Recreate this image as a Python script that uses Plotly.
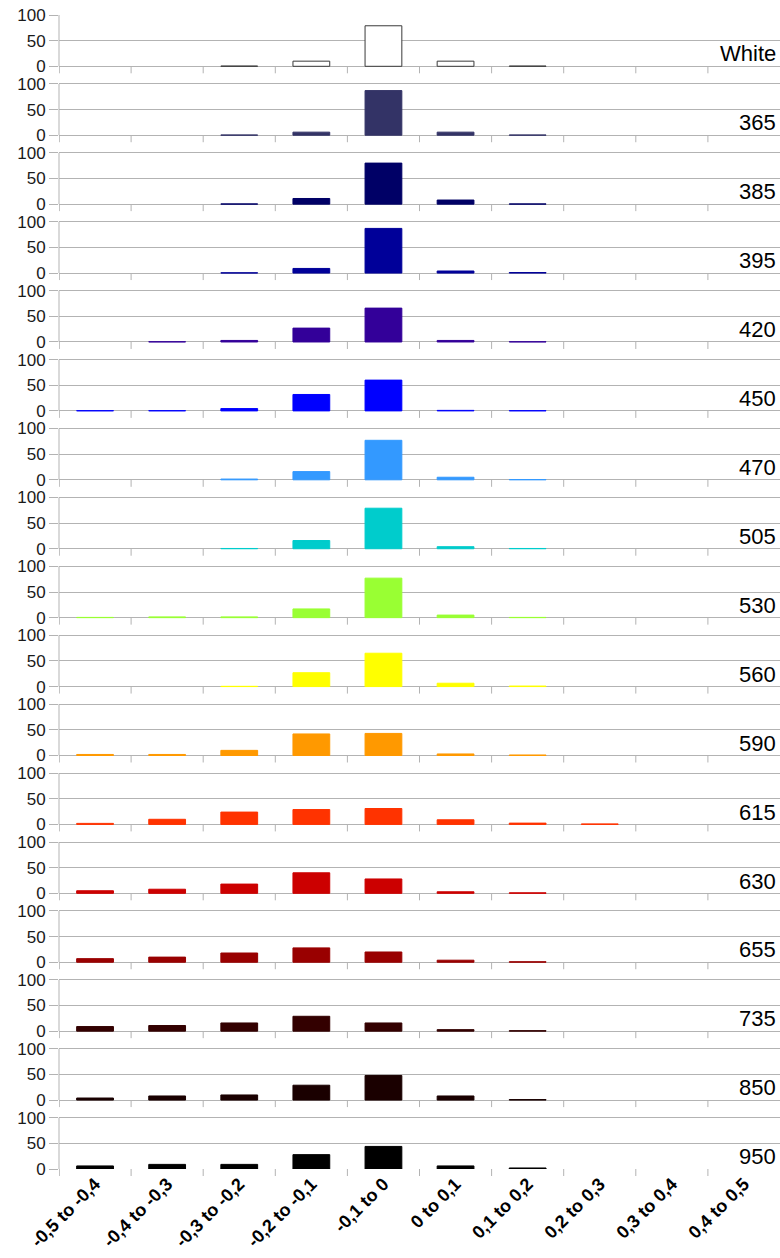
import plotly.graph_objects as go

# Bins of the value distribution (x categories)
categories = ["-0,5 to -0,4", "-0,4 to -0,3", "-0,3 to -0,2", "-0,2 to -0,1",
              "-0,1 to 0", "0 to 0,1", "0,1 to 0,2", "0,2 to 0,3",
              "0,3 to 0,4", "0,4 to 0,5"]

# Panel names (light source / wavelength)
panel_names = ["White", "365", "385", "395", "420", "450", "470", "505", "530",
               "560", "590", "615", "630", "655", "735", "850", "950"]

# Bar colours, one per panel
panel_colors = ["#ffffff", "#333366", "#000066", "#000099", "#330099", "#0000ff",
                "#3399ff", "#00cccc", "#99ff33", "#ffff00", "#ff9900", "#ff3300",
                "#cc0000", "#990000", "#330000", "#1a0000", "#000000"]

# Percentage per bin for each panel (None = no bar)
N = None
values_white = [N, N, 0.5, 10, 79, 10, 0.5, N, N, N]
values_365 = [N, N, 0.5, 6, 87, 6, 0.5, N, N, N]
values_385 = [N, N, 0.5, 11, 80, 8, 0.5, N, N, N]
values_395 = [N, N, 0.5, 9, 87, 4, 1, N, N, N]
values_420 = [N, 0.5, 3, 27, 66, 3, 0.5, N, N, N]
values_450 = [0.5, 0.5, 4.5, 32, 60, 1, 0.5, N, N, N]
values_470 = [N, N, 1.5, 16, 77, 5, 0.5, N, N, N]
values_505 = [N, N, 0.5, 16, 79, 4, 0.5, N, N, N]
values_530 = [0.5, 1.5, 1.5, 17, 77, 5, 0.5, N, N, N]
values_560 = [N, N, 0.5, 27, 65, 6.5, 1, N, N, N]
values_590 = [2, 2, 10, 42, 43, 3, 1, N, N, N]
values_615 = [2, 10, 24, 29, 31, 9, 2.5, 1, N, N]
values_630 = [5, 8, 18, 40, 28, 3, 1, N, N, N]
values_655 = [7, 10, 18, 28, 20, 4, 1, N, N, N]
values_735 = [9, 11, 16, 29, 16, 3, 1, N, N, N]
values_850 = [4, 8, 10, 29, 48, 8, 1, N, N, N]
values_950 = [6, 9, 9, 28, 44, 6, 2, N, N, N]

panel_values = [values_white, values_365, values_385, values_395, values_420,
                values_450, values_470, values_505, values_530, values_560,
                values_590, values_615, values_630, values_655, values_735,
                values_850, values_950]

W, H = 780, 1258
M_L, M_R, M_T, M_B = 59, 0, 15, 89
plot_h = H - M_T - M_B
n = len(panel_names)
panel_px = 51.3          # pixel height of the 0..100 span in each panel
pitch_px = (plot_h - panel_px) / (n - 1)
pad_units = 5.0          # range padding so the 0 and 100 grid lines are drawn
pad_px = panel_px * pad_units / 100
tick_px = 7              # length of the category boundary ticks

GRID = "#b3b3b3"
FONT = "Liberation Sans, Arial, sans-serif"

fig = go.Figure()
layout_axes = {}
annotations = []
shapes = []

for i, (name, color, vals) in enumerate(zip(panel_names, panel_colors, panel_values)):
    k = "" if i == 0 else str(i + 1)
    top_px = i * pitch_px - pad_px
    bot_px = i * pitch_px + panel_px + pad_px
    dom = [1 - bot_px / plot_h, 1 - top_px / plot_h]
    lo = max(0.0, dom[0])
    hi = min(1.0, dom[1])
    rng_lo = -pad_units + (lo - dom[0]) * plot_h / panel_px * 100
    rng_hi = 100 + pad_units - (dom[1] - hi) * plot_h / panel_px * 100
    line_color = "#3a3a3a" if color == "#ffffff" else color
    fig.add_trace(go.Bar(
        x=categories, y=vals, xaxis="x" + k, yaxis="y" + k,
        marker=dict(color=color, line=dict(color=line_color, width=1)),
        showlegend=False,
    ))
    last = i == n - 1
    layout_axes["xaxis" + k] = dict(
        domain=[0, 1], anchor="free", position=lo, type="category",
        categoryorder="array", categoryarray=categories,
        range=[-0.5, len(categories) - 0.5],
        showgrid=False, zeroline=False, showline=False,
        ticks="", showticklabels=last, tickangle=-45,
        tickfont=dict(family=FONT, size=18, color="#000000", weight="bold"),
        matches=None if i == 0 else "x",
    )
    layout_axes["yaxis" + k] = dict(
        domain=[lo, hi], anchor="x" + k,
        range=[rng_lo, rng_hi],
        tickvals=[0, 50, 100], ticktext=["0", "50", "100"],
        showgrid=True, gridcolor=GRID, gridwidth=1, zeroline=False,
        showline=False,
        ticks="outside", ticklen=9, tickcolor=GRID,
        tickfont=dict(family=FONT, size=17, color="#1a1a1a"),
    )
    annotations.append(dict(
        text=name, xref="paper", x=1, xanchor="right", xshift=-2,
        yref="y" + k, y=24, yanchor="middle", showarrow=False,
        font=dict(family=FONT, size=22, color="#000000"),
    ))
    # left axis line spanning 0..100
    shapes.append(dict(type="line", xref="paper", yref="y" + k,
                       x0=0, x1=0, y0=0, y1=100,
                       line=dict(color=GRID, width=1)))
    # category boundary tick marks hanging below the 0 line
    zero_paper = 1 - (i * pitch_px + panel_px) / plot_h
    for b in range(len(categories)):
        shapes.append(dict(type="line", xref="x" + k, yref="paper",
                           x0=b - 0.5 + (0.004 if b == 0 else 0),
                           x1=b - 0.5 + (0.004 if b == 0 else 0),
                           y0=zero_paper, y1=zero_paper - tick_px / plot_h,
                           line=dict(color=GRID, width=1)))

fig.update_layout(
    width=W, height=H, autosize=False,
    margin=dict(l=M_L, r=M_R, t=M_T, b=M_B, pad=0),
    paper_bgcolor="#ffffff", plot_bgcolor="#ffffff",
    bargap=0.49, annotations=annotations, shapes=shapes,
    **layout_axes,
)

fig.write_html("out.html")
